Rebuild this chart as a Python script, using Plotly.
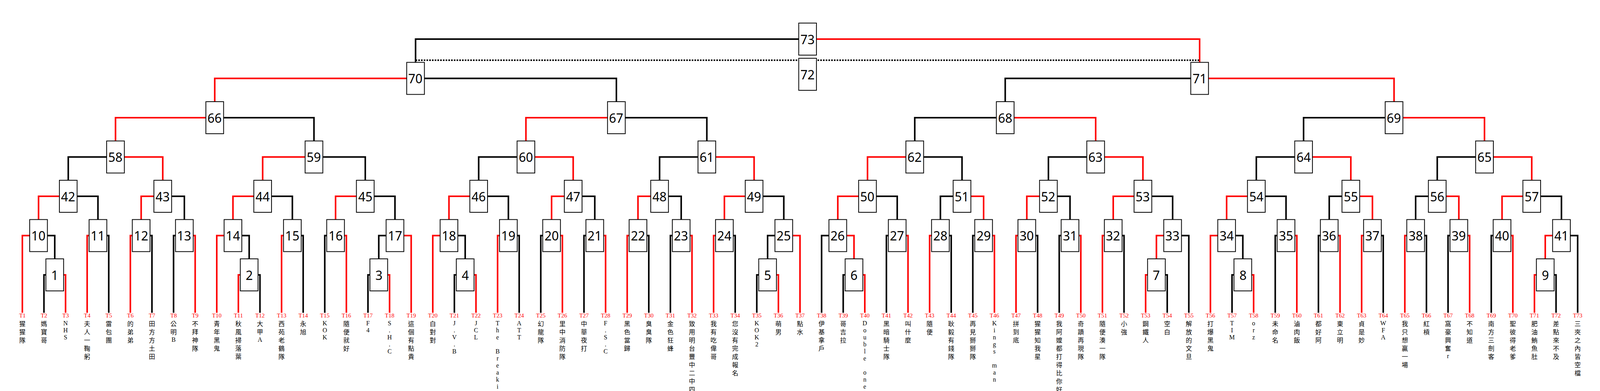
import plotly.graph_objects as go

# team names, T1..T73 from left to right
team_names = [
    "猩猩隊", "媽寶哥", "NHS", "夫人一鞠躬", "雷包團", "的弟弟", "田方方土田", "公明B",
    "不拜神隊", "青年黑鬼", "秋風掃落葉", "大甲A", "西苑老鶴隊", "永旭", "KOK", "隨便就好",
    "F4", "S.H.C", "這個有點貴", "白對對", "J.V.B", "JCL", "The Breaking", "ATT",
    "幻龍隊", "里中消防隊", "中華夜打", "F.S.C", "黑色當歸", "臭臭隊", "金色狂蜂", "致用明台豐中二中四",
    "我有吃偉哥", "您沒有完成報名", "KOK2", "萌男", "點水", "伊基拿戶", "哥吉拉", "Double one",
    "黑暗騎士隊", "叫什麼", "隨便", "耿毅有錢隊", "再見掰掰隊", "Kings man", "拼到底", "猩猩知我星",
    "我阿嬤都打得比你好", "奇蹟再現隊", "隨便湊一隊", "小強", "鋼鐵人", "空白", "解放的文旦", "打爆黑鬼",
    "TIM", "orz", "未命名", "滷肉飯", "都好阿", "東立明", "貞是妙", "WFA",
    "我只想贏一場", "紅槓", "窩豪興奮r", "不知道", "南方三劍客", "聖彼得老爹", "肥油鮪魚肚", "差點來不及",
    "三夾之內皆空檔",
]

# matches 1-9 (play-in)
playin_pairs = [("T2", "T3"), ("T11", "T12"), ("T17", "T18"), ("T21", "T22"), ("T35", "T36"),
                ("T39", "T40"), ("T53", "T54"), ("T57", "T58"), ("T71", "T72")]
# matches 10-41
round1_pairs = [("T1", "M1"), ("T4", "T5"), ("T6", "T7"), ("T8", "T9"), ("T10", "M2"),
                ("T13", "T14"), ("T15", "T16"), ("M3", "T19"), ("T20", "M4"), ("T23", "T24"),
                ("T25", "T26"), ("T27", "T28"), ("T29", "T30"), ("T31", "T32"), ("T33", "T34"),
                ("M5", "T37"), ("T38", "M6"), ("T41", "T42"), ("T43", "T44"), ("T45", "T46"),
                ("T47", "T48"), ("T49", "T50"), ("T51", "T52"), ("M7", "T55"), ("T56", "M8"),
                ("T59", "T60"), ("T61", "T62"), ("T63", "T64"), ("T65", "T66"), ("T67", "T68"),
                ("T69", "T70"), ("M9", "T73")]

# which side won each match (L / R), per round
winners_playin = "RLRRRRLRL"
winners_r1 = "LLLRLLRRLL" "RRLRLRRRLR" "LRLLLRRLLRRL"
winners_r2 = "LLLLLLLLLRLLLRRL"
winners_r3 = "RLRRLRRR"
winners_r4 = "LLRR"
winners_r5 = "LR"
winner_final = "R"

# ---- build bracket ----
RED = "#ff0000"
level_y = [703, 602.5, 502, 401.5, 301, 200.5, 100]
leaf_bottom = 800
half = 41  # half box size

children = {}
mid_y = {}
win = {}
num = 1
for r, pairs in enumerate([playin_pairs, round1_pairs]):
    for p in pairs:
        children[num] = p
        mid_y[num] = level_y[r]
        num += 1

prev = list(range(10, 42))
r = 2
while len(prev) > 1:
    cur = []
    for i in range(0, len(prev), 2):
        if len(prev) == 2:
            m = 73
        else:
            m = num
            num += 1
        children[m] = ("M%d" % prev[i], "M%d" % prev[i + 1])
        mid_y[m] = level_y[r]
        cur.append(m)
    prev = cur
    r += 1

all_w = winners_playin + winners_r1 + winners_r2 + winners_r3 + winners_r4 + winners_r5
for i, w in enumerate(all_w):
    win[i + 1] = w
win[73] = winner_final

xpos = {}


def node_x(node):
    if node.startswith("T"):
        return 100 * int(node[1:])
    m = int(node[1:])
    if m not in xpos:
        a, b = children[m]
        xpos[m] = (node_x(a) + node_x(b)) / 2
    return xpos[m]


for m in children:
    node_x("M%d" % m)

lines = {"red": ([], []), "black": ([], [])}
for m, (a, b) in children.items():
    px, py = xpos[m], mid_y[m]
    for side, child in (("L", a), ("R", b)):
        col = "red" if win[m] == side else "black"
        cx = node_x(child)
        cy = leaf_bottom if child.startswith("T") else mid_y[int(child[1:])]
        xs, ys = lines[col]
        xs += [px, cx, cx, None]
        ys += [py, py, cy, None]

fig = go.Figure()
for col, c in (("black", "black"), ("red", RED)):
    xs, ys = lines[col]
    fig.add_trace(go.Scatter(x=xs, y=ys, mode="lines", line=dict(color=c, width=4),
                             hoverinfo="skip", showlegend=False))

# third-place match, dotted link between the two semi-finals
x72, y72 = xpos[73], 190
fig.add_trace(go.Scatter(x=[xpos[70], xpos[71]], y=[154, 154], mode="lines",
                         line=dict(color="black", width=4, dash="4px,3px"),
                         hoverinfo="skip", showlegend=False))

box_ids = sorted(children) + [72]
for m in box_ids:
    bx = xpos[m] if m != 72 else x72
    by = mid_y[m] if m != 72 else y72
    fig.add_shape(type="rect", x0=bx - half, x1=bx + half, y0=by - half, y1=by + half,
                  fillcolor="white", line=dict(color="black", width=2), layer="above")
    fig.add_annotation(x=bx, y=by, text=str(m), showarrow=False,
                       font=dict(family="Noto Sans", size=32, color="black"))

# team codes
tx = [100 * (i + 1) for i in range(len(team_names))]
fig.add_trace(go.Scatter(
    x=tx, y=[808] * len(tx), mode="text", text=["T%d" % (i + 1) for i in range(len(team_names))],
    textposition="middle center",
    textfont=dict(family="Liberation Serif", size=15, color=RED),
    hoverinfo="skip", showlegend=False))

# team names, written top to bottom one character per line
cx_, cy_, ct_ = [], [], []
for i, name in enumerate(team_names):
    y = 819
    for ch in name:
        adv = 21 if ord(ch) > 0x2E80 else 18
        if ch != " ":
            cx_.append(100 * (i + 1))
            cy_.append(y + adv / 2)
            ct_.append(ch)
        y += adv
fig.add_trace(go.Scatter(
    x=cx_, y=cy_, mode="text", text=ct_, textposition="middle center",
    textfont=dict(family="Liberation Serif, Noto Sans CJK TC", size=16, color="black"),
    hoverinfo="skip", showlegend=False))

fig.update_layout(
    height=1000, autosize=True,
    margin=dict(l=0, r=0, t=0, b=0),
    plot_bgcolor="white", paper_bgcolor="white",
    xaxis=dict(range=[11, 7389], visible=False, fixedrange=True),
    yaxis=dict(range=[1008, 8], visible=False, fixedrange=True),
)

fig.write_html("out.html")
